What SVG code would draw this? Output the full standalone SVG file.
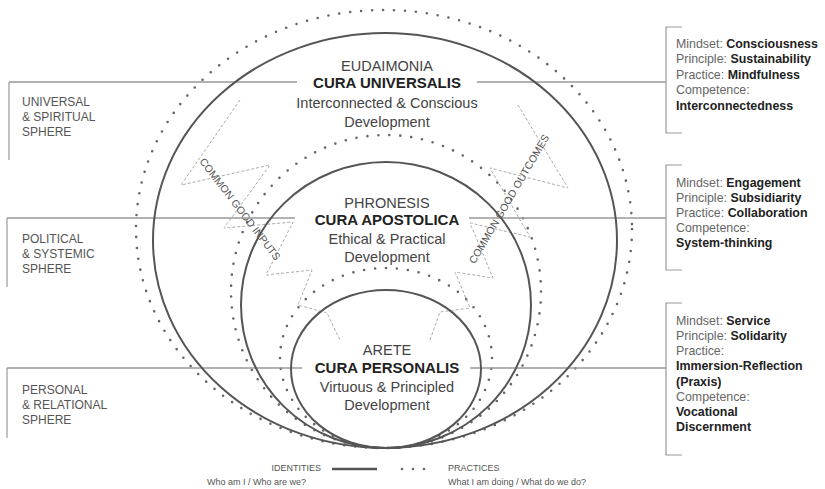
<svg xmlns="http://www.w3.org/2000/svg" width="825" height="489" viewBox="0 0 825 489">
<style>
.solid{fill:none;stroke:#555;stroke-width:2}
.dots{fill:none;stroke:#666;stroke-width:2.6;stroke-linecap:round;stroke-dasharray:0 11}
.conn{fill:none;stroke:#999;stroke-width:1.5}
.brk{fill:none;stroke:#999;stroke-width:1.2}
.sq{fill:none;stroke:#aaa;stroke-width:1;stroke-dasharray:3 2}
text{font-family:"Liberation Sans",Arial,sans-serif}
.c1{font-size:14.5px;fill:#444;text-anchor:middle}
.c2{font-size:15px;font-weight:bold;fill:#222;text-anchor:middle}
.sph{font-size:12px;fill:#555}
.rb{font-size:12.4px;fill:#666}
.rb tspan.v{font-weight:bold;fill:#222}
.sql{font-size:10.5px;fill:#555;text-anchor:middle}
.lg{font-size:9px;fill:#555}
</style>
<rect width="825" height="489" fill="#fff"/>

<g id="practices-universal"><ellipse class="dots" cx="384" cy="229" rx="248" ry="219"/></g>
<g id="practices-political"><ellipse class="dots" cx="386" cy="291.5" rx="155" ry="156.5"/></g>
<g id="practices-personal"><ellipse class="dots" cx="386" cy="358" rx="106" ry="90"/></g>

<g id="squiggles">
<path class="sq" d="M240,100 L186.7,176.8 C179.3,187.5 178.1,185.6 190.8,182.8 L260.2,167.2 C272.9,164.4 271.8,162.6 264.1,173.1 L229.9,219.9 C222.2,230.4 221.0,228.2 234.0,227.1 L283.0,222.9 C296.0,221.8 294.4,219.3 288.5,230.9 L269.6,267.9 C264.9,277.2 263.6,275.2 274.0,274.1 L305.0,270.8 C314.1,269.8 312.8,268.0 309.4,276.5 L300.2,299.4 C297.3,306.6 296.3,304.5 303.8,306.6 L321.2,311.4 C328.2,313.3 326.5,311.9 329.6,318.4 L340,340"/>
<path class="sq" d="M518,105 L562.8,179.4 C569.5,190.5 570.9,188.7 558.3,185.5 L499.7,170.5 C487.1,167.3 488.5,165.4 495.0,176.7 L525.0,228.4 C531.5,239.6 533.0,237.7 520.3,234.7 L479.7,225.3 C467.1,222.3 468.8,220.2 473.9,232.2 L489.9,270.6 C493.9,280.2 495.4,278.4 485.1,276.8 L461.9,273.1 C452.9,271.7 454.2,270.1 457.7,278.5 L467.7,302.5 C470.5,309.1 471.2,307.8 464.1,308.8 L445.9,311.2 C438.8,312.2 440.4,310.9 438.0,317.7 L430,340"/>
<text class="sql" transform="translate(240,209) rotate(52.6)" dy="0.35em">COMMON GOOD INPUTS</text>
<text class="sql" transform="translate(509,199) rotate(-59.5)" dy="0.35em">COMMON GOOD OUTCOMES</text>
</g>

<g id="connectors">
<path class="conn" d="M9,82 H297 M477,82 H666"/>
<path class="conn" d="M7,218 H295 M469,218 H666"/>
<path class="conn" d="M7,368 H302 M470,368 H666"/>
</g>

<g id="eudaimonia">
<ellipse class="solid" cx="385" cy="240.5" rx="232" ry="207.5"/>
<text class="c1" x="387" y="71">EUDAIMONIA</text>
<text class="c2" x="387" y="88">CURA UNIVERSALIS</text>
<text class="c1" x="387" y="108">Interconnected &amp; Conscious</text>
<text class="c1" x="387" y="127">Development</text>
</g>

<g id="phronesis">
<ellipse class="solid" cx="386" cy="305" rx="145" ry="143"/>
<text class="c1" x="387" y="208">PHRONESIS</text>
<text class="c2" x="387" y="225">CURA APOSTOLICA</text>
<text class="c1" x="387" y="244">Ethical &amp; Practical</text>
<text class="c1" x="387" y="262">Development</text>
</g>

<g id="arete">
<ellipse class="solid" cx="386" cy="369" rx="95" ry="79"/>
<text class="c1" x="387" y="355">ARETE</text>
<text class="c2" x="387" y="373">CURA PERSONALIS</text>
<text class="c1" x="387" y="392">Virtuous &amp; Principled</text>
<text class="c1" x="387" y="410">Development</text>
</g>

<g id="sphere-universal">
<path class="brk" d="M9,82 V160"/>
<text class="sph" x="22" y="106">UNIVERSAL</text>
<text class="sph" x="22" y="121">&amp; SPIRITUAL</text>
<text class="sph" x="22" y="136">SPHERE</text>
</g>
<g id="sphere-political">
<path class="brk" d="M7,218 V287"/>
<text class="sph" x="22" y="242.5">POLITICAL</text>
<text class="sph" x="22" y="257.5">&amp; SYSTEMIC</text>
<text class="sph" x="22" y="273">SPHERE</text>
</g>
<g id="sphere-personal">
<path class="brk" d="M7,368 V438"/>
<text class="sph" x="22" y="393.5">PERSONAL</text>
<text class="sph" x="22" y="408.5">&amp; RELATIONAL</text>
<text class="sph" x="22" y="424">SPHERE</text>
</g>

<g id="box-universal">
<path class="brk" d="M682,27 H666 V133 H682"/>
<text class="rb" x="676" y="47.5">Mindset: <tspan class="v">Consciousness</tspan></text>
<text class="rb" x="676" y="63">Principle: <tspan class="v">Sustainability</tspan></text>
<text class="rb" x="676" y="78.5">Practice: <tspan class="v">Mindfulness</tspan></text>
<text class="rb" x="676" y="94">Competence:</text>
<text class="rb" x="676" y="109.5"><tspan class="v">Interconnectedness</tspan></text>
</g>
<g id="box-political">
<path class="brk" d="M682,165 H666 V270 H682"/>
<text class="rb" x="676" y="186.5">Mindset: <tspan class="v">Engagement</tspan></text>
<text class="rb" x="676" y="201.5">Principle: <tspan class="v">Subsidiarity</tspan></text>
<text class="rb" x="676" y="216.5">Practice: <tspan class="v">Collaboration</tspan></text>
<text class="rb" x="676" y="231.5">Competence:</text>
<text class="rb" x="676" y="246.5"><tspan class="v">System-thinking</tspan></text>
</g>
<g id="box-personal">
<path class="brk" d="M682,303 H666 V455 H682"/>
<text class="rb" x="676" y="325">Mindset: <tspan class="v">Service</tspan></text>
<text class="rb" x="676" y="340">Principle: <tspan class="v">Solidarity</tspan></text>
<text class="rb" x="676" y="355">Practice:</text>
<text class="rb" x="676" y="370"><tspan class="v">Immersion-Reflection</tspan></text>
<text class="rb" x="676" y="385.5"><tspan class="v">(Praxis)</tspan></text>
<text class="rb" x="676" y="400.5">Competence:</text>
<text class="rb" x="676" y="415.5"><tspan class="v">Vocational</tspan></text>
<text class="rb" x="676" y="431"><tspan class="v">Discernment</tspan></text>
</g>

<g id="legend">
<text class="lg" x="321" y="471" text-anchor="end">IDENTITIES</text>
<text class="lg" x="306" y="485" text-anchor="end">Who am I / Who are we?</text>
<line x1="332" y1="469" x2="377" y2="469" stroke="#555" stroke-width="2.5"/>
<line x1="402" y1="469" x2="433" y2="469" class="dots" stroke-dasharray="0 10"/>
<text class="lg" x="448" y="471">PRACTICES</text>
<text class="lg" x="448" y="485">What I am doing / What do we do?</text>
</g>
</svg>
